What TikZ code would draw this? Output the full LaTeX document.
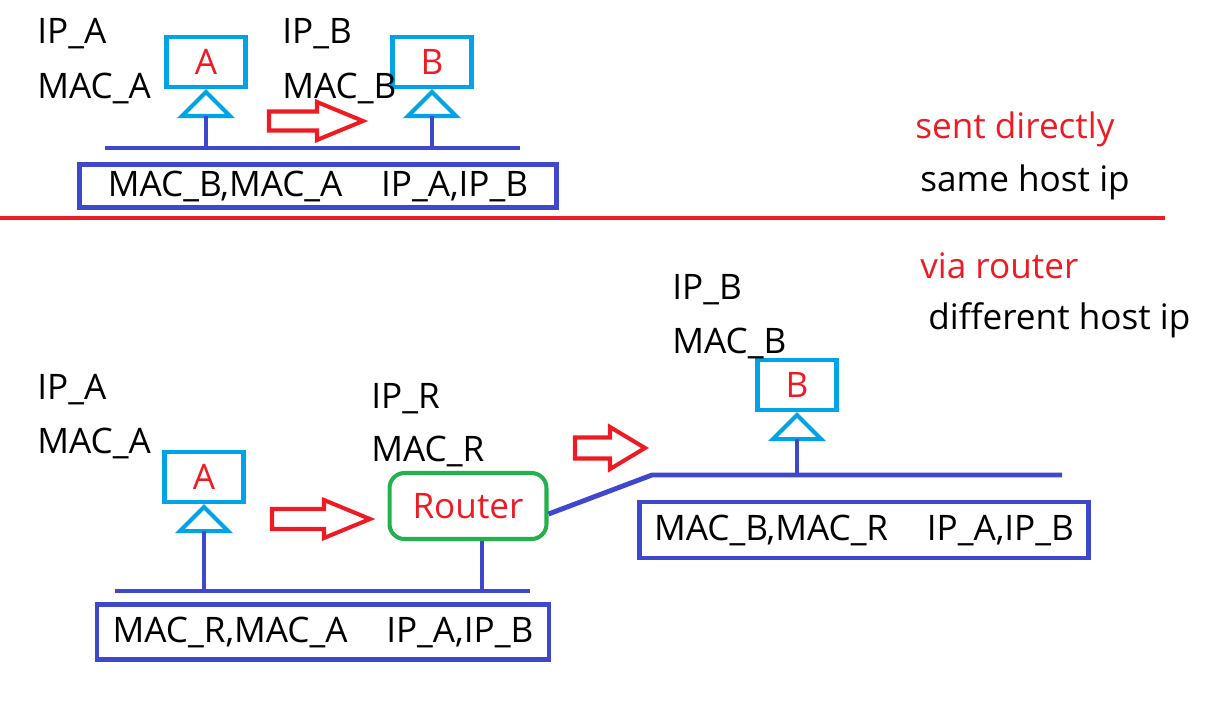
\documentclass[tikz,border=0pt]{standalone}
\usepackage{fontspec}
\setmainfont{Open Sans}
\usetikzlibrary{calc, positioning}
\definecolor{paintred}{RGB}{237,28,36}
\definecolor{paintcyan}{RGB}{0,162,232}
\definecolor{paintblue}{RGB}{63,72,204}
\definecolor{paintgreen}{RGB}{34,177,76}
\tikzset{every node/.style={align=center, font=\fontsize{20}{23}\selectfont}}
\tikzset{label/.style={anchor=base west, inner sep=0pt}}
\tikzset{host/.style={draw=paintcyan, line width=2.3pt, minimum width=1.58cm, minimum height=1.0cm, text=paintred, inner sep=0pt}}
\tikzset{hostline/.style={draw=paintcyan, line width=2.3pt, line join=miter}}
\tikzset{lan/.style={paintblue, line width=2.8pt}}
\tikzset{frame/.style={draw=paintblue, line width=2.5pt, inner sep=0pt}}
\tikzset{hollow/.style={draw=paintred, line width=2.3pt, line join=miter}}
\tikzset{pics/hollowarrow/.style n args={4}{code={
	\draw[hollow] (0,-#4) -- (#1-#2,-#4) -- (#1-#2,-#3) -- (#1,0) -- (#1-#2,#3) -- (#1-#2,#4) -- (0,#4) -- cycle;}}}

\begin{document}
\begin{tikzpicture}[x=0.02cm, y=-0.02cm]
	
		\useasboundingbox (0,0) rectangle (1206,703);
		
		% Coordinates
		%% Top network
		\coordinate (lanAW) at (105,148);
		\coordinate (lanAE) at (520,148);
		%% Bottom network
		\coordinate (lanBW) at (115,591);
		\coordinate (lanBE) at (530,591);
		\coordinate (lanCW) at (652,475);
		\coordinate (lanCE) at (1062,475);
		\coordinate (rFoot) at (482,591);
		%% Separator
		\coordinate (sepW) at (0,218);
		\coordinate (sepE) at (1165,218);
		
		% Hosts, same network
		\node[host] (hA) at (206,62) {A};
		\node[host] (hB) at (432,62) {B};
		\foreach \h in {hA,hB}
		{
			\draw[hostline] ($(\h.south)+(0,3)$) -- ++(-24,24) -- ++(48,0) -- cycle;
			\coordinate (\h foot) at ($(\h.south)+(0,27)$);
			\draw[lan] (\h foot) -- (\h foot |- lanAW);
		}
		\draw[lan] (lanAW) -- (lanAE);
		\pic at (269,121) {hollowarrow={94}{46}{19}{9.5}};
		\node[frame, minimum width=9.54cm, minimum height=0.86cm] (pktA) at (318,186) {MAC\_B,MAC\_A\hspace{1.1em}IP\_A,IP\_B};
		
		% Separator
		\draw[paintred, line width=2.3pt] (sepW) -- (sepE);
		
		% Hosts, via router
		\node[host] (hA2) at (204,477) {A};
		\node[host] (hB2) at (797,385) {B};
		\draw[hostline] ($(hA2.south)+(0,3)$) -- ++(-24,24) -- ++(48,0) -- cycle;
		\coordinate (hA2foot) at ($(hA2.south)+(0,27)$);
		\draw[lan] (hA2foot) -- (hA2foot |- lanBW);
		\draw[hostline] ($(hB2.south)+(0,3)$) -- ++(-24,24) -- ++(48,0) -- cycle;
		\coordinate (hB2foot) at ($(hB2.south)+(0,27)$);
		\draw[lan] (hB2foot) -- (hB2foot |- lanCW);
		
		% Router
		\node[draw=paintgreen, line width=2.3pt, rounded corners=0.3cm, minimum width=3.14cm, minimum height=1.32cm, text=paintred] (router) at (468,506) {Router};
		\draw[lan] (rFoot |- router.south) -- (rFoot);
		\draw[lan] (lanBW) -- (lanBE);
		\draw[lan] ($(router.east)+(0,8)$) -- (lanCW) -- (lanCE);
		
		% Arrows
		\pic at (272,519) {hollowarrow={98}{46}{19}{10}};
		\pic at (575,448) {hollowarrow={70}{35}{21}{10.5}};
		
		% Frames
		\node[frame, minimum width=9.04cm, minimum height=1.1cm] (pktB) at (323,632) {MAC\_R,MAC\_A\hspace{1.1em}IP\_A,IP\_B};
		\node[frame, minimum width=8.98cm, minimum height=1.12cm] (pktC) at (864,530) {MAC\_B,MAC\_R\hspace{1.1em}IP\_A,IP\_B};
		
		% Labels
		\node[label] (ipA) at (37,43) {IP\_A};
		\node[label] (macA) at (37,98) {MAC\_A};
		\node[label] (ipB) at (282,43) {IP\_B};
		\node[label] (macB) at (282,98) {MAC\_B};
		\node[label, text=paintred] (sent) at (915,138) {sent directly};
		\node[label] (same) at (920,191) {same host ip};
		\node[label, text=paintred] (via) at (920,278) {via router};
		\node[label] (diff) at (928,329) {different host ip};
		\node[label] (ipB2) at (672,299) {IP\_B};
		\node[label] (macB2) at (672,353) {MAC\_B};
		\node[label] (ipA2) at (37,399) {IP\_A};
		\node[label] (macA2) at (37,453) {MAC\_A};
		\node[label] (ipR) at (371,408) {IP\_R};
		\node[label] (macR) at (371,461) {MAC\_R};
	\end{tikzpicture}
\end{document}
